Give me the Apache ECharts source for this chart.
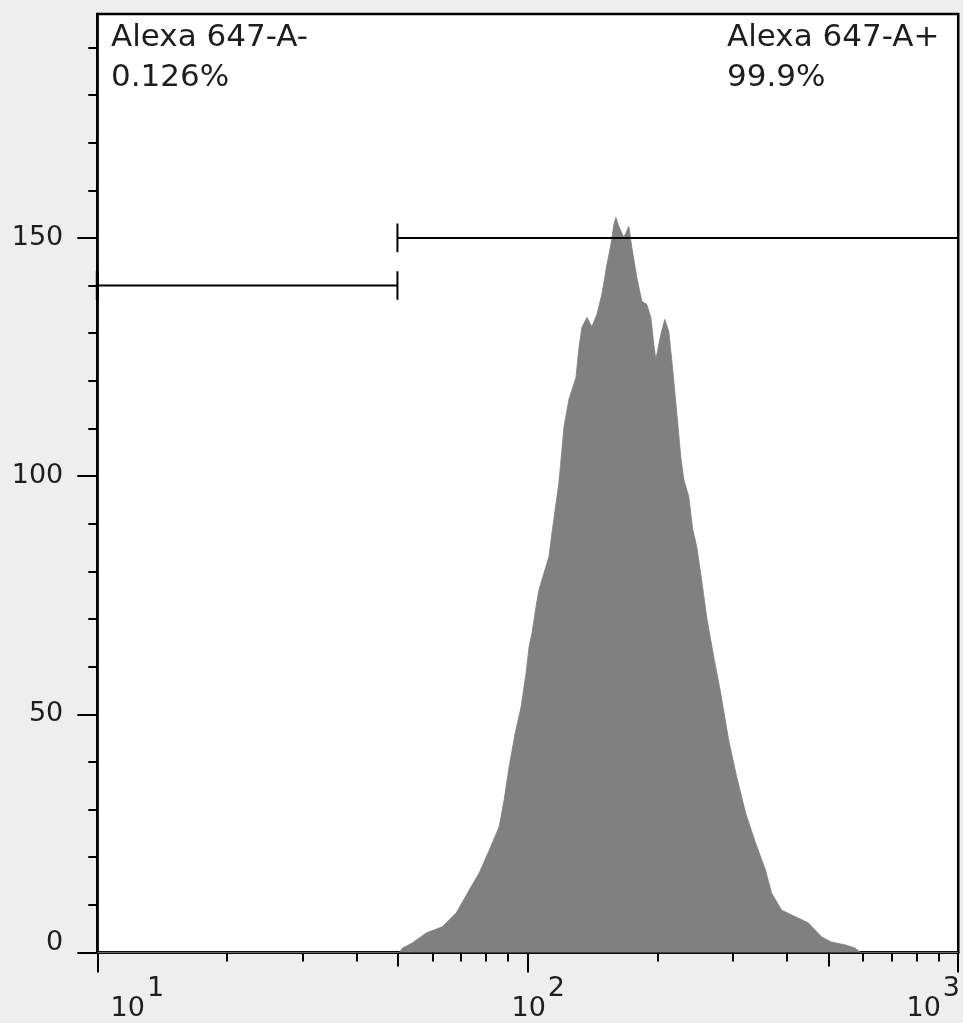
<!DOCTYPE html>
<html>
<head>
<meta charset="utf-8">
<script src="https://cdn.jsdelivr.net/npm/echarts@6/dist/echarts.min.js"></script>
<style>
html,body{margin:0;padding:0;background:#eeeeee;}
#chart{width:963px;height:1023px;}
</style>
</head>
<body>
<div id="chart"></div>
<script>
// ---- data ----
const binValues = [10, 50.3, 51.1, 53.9, 58.1, 63.3, 68.2, 73.1, 77.1, 81.4, 85.8, 88.1, 90.5, 93.5, 96.5, 99.1, 100.7, 102.3, 104.5, 106.2, 109.1, 112.0, 113.8, 118.1, 121.4, 124.6, 129.4, 131.5, 133.6, 137.2, 140.9, 144.7, 148.6, 152.7, 156.0, 158.5, 160.2, 162.8, 167.2, 171.7, 174.5, 179.2, 184.1, 189.1, 193.2, 196.3, 198.4, 203.7, 208.1, 212.6, 217.2, 221.9, 226.7, 230.4, 236.6, 241.7, 246.9, 253.5, 260.3, 270.4, 280.6, 292.9, 305.7, 320.7, 338.2, 356.7, 368.4, 388.6, 425.6, 448.9, 481.2, 507.6, 547.0, 576.9, 592.5, 1000];
const counts = [0, 0, 0.9, 2.0, 4.1, 5.4, 8.3, 13.1, 16.7, 21.5, 26.4, 32.0, 39.0, 46.1, 51.6, 58.7, 64.2, 67.1, 72.6, 76.2, 79.7, 83.1, 88.1, 98.6, 110.4, 116.1, 120.7, 127.0, 131.2, 133.3, 131.4, 133.9, 138.1, 144.4, 148.6, 152.8, 154.3, 152.4, 150.1, 152.4, 148.0, 141.7, 136.7, 136.0, 133.3, 127.6, 124.5, 129.7, 132.9, 130.4, 122.3, 113.3, 104.1, 99.3, 95.7, 88.8, 85.2, 78.2, 70.5, 62.1, 54.5, 44.6, 36.9, 29.3, 23.0, 17.3, 12.5, 8.9, 7.2, 6.2, 3.3, 2.2, 1.6, 0.9, 0, 0];

const gateNames = ['Alexa 647-A-', 'Alexa 647-A+'];
const gatePercents = ['0.126%', '99.9%'];
const negGate = [10, 49.8];     // x range
const negGateLevel = 140;
const posGate = [49.8, 1000];   // x range
const posGateLevel = 150;
const capHalf = 3;

const xMajorTicks = [10, 100, 1000];
const xMidTicks = [50, 500];
const xMinorTicks = [20, 30, 40, 60, 70, 80, 90, 200, 300, 400, 600, 700, 800, 900];
const xTickExponents = ['1', '2', '3'];
const yMajorTicks = [0, 50, 100, 150];
const yMinorTicks = [10, 20, 30, 40, 60, 70, 80, 90, 110, 120, 130, 140, 160, 170, 180, 190];

// ---- chart ----
const FONT = 'DejaVu Sans';
const TXT = '#1e1e1e';
const chart = echarts.init(document.getElementById('chart'));

const histData = binValues.map((v, i) => [v, counts[i]]);

function xAxisBase(ticks, len, extra) {
  return Object.assign({
    type: 'log', logBase: 10, min: 10, max: 1000, gridIndex: 0, position: 'bottom',
    axisLine: { show: false },
    axisTick: { show: true, customValues: ticks, length: len, lineStyle: { color: '#000', width: 2 } },
    axisLabel: { show: false },
    splitLine: { show: false }, minorTick: { show: false }
  }, extra || {});
}
function yAxisBase(ticks, len, extra) {
  return Object.assign({
    type: 'value', min: 0, max: 197, gridIndex: 0, position: 'left',
    axisLine: { show: false },
    axisTick: { show: true, customValues: ticks, length: len, lineStyle: { color: '#000', width: 2 } },
    axisLabel: { show: false },
    splitLine: { show: false }
  }, extra || {});
}

const annoStyle = { fontFamily: FONT, fontSize: 31, fontWeight: 'normal', lineHeight: 40, color: TXT };

const option = {
  backgroundColor: '#eeeeee',
  animation: false,
  title: [
    { text: gateNames[0] + '\n' + gatePercents[0], left: 111, top: 18, padding: 0, textStyle: annoStyle },
    { text: gateNames[1] + '\n' + gatePercents[1], left: 727, top: 18, padding: 0, textStyle: annoStyle }
  ],
  grid: { left: 97.3, right: 2.5, top: 14, bottom: 70.5, show: true, backgroundColor: '#ffffff',
          borderColor: '#000', borderWidth: 2.5 },
  xAxis: [
    xAxisBase(xMajorTicks, 20, {
      axisLine: { show: true, lineStyle: { color: '#000', width: 2.5 } },
      axisLabel: {
        show: true, customValues: xMajorTicks, margin: 23, color: TXT, fontFamily: FONT,
        formatter: function (v) {
          const i = xMajorTicks.indexOf(v);
          const e = xTickExponents[i];
          if (i === 0) return '{bL|10}{s|' + e + '}';
          if (i === 1) return '{bM|10}{s|' + e + '}';
          return '{b|10}{sR|' + e + '}';
        },
        rich: {
          b:  { fontFamily: FONT, fontSize: 27, color: TXT, verticalAlign: 'bottom' },
          bL: { fontFamily: FONT, fontSize: 27, color: TXT, verticalAlign: 'bottom', padding: [0, 0, 0, 80] },
          bM: { fontFamily: FONT, fontSize: 27, color: TXT, verticalAlign: 'bottom', padding: [0, 0, 0, 21] },
          s:  { fontFamily: FONT, fontSize: 27, color: TXT, verticalAlign: 'bottom', padding: [0, 0, 20, 2] },
          sR: { fontFamily: FONT, fontSize: 27, color: TXT, verticalAlign: 'bottom', padding: [0, 50, 20, 2] }
        }
      }
    }),
    xAxisBase(xMidTicks, 14),
    xAxisBase(xMinorTicks, 9)
  ],
  yAxis: [
    yAxisBase(yMajorTicks, 20, {
      axisLine: { show: true, lineStyle: { color: '#000', width: 2.5 } },
      axisLabel: {
        show: true, customValues: yMajorTicks, margin: 34, color: TXT, fontFamily: FONT, fontSize: 27,
        formatter: function (v) { return v === 0 ? '{z|0}' : String(v); },
        rich: { z: { fontFamily: FONT, fontSize: 27, color: TXT, padding: [0, 0, 20, 0] } }
      }
    }),
    yAxisBase(yMinorTicks, 9)
  ],
  series: [
    {
      name: 'count', type: 'line', xAxisIndex: 0, yAxisIndex: 0, data: histData,
      showSymbol: false, symbol: 'none', smooth: false, z: 1,
      lineStyle: { color: '#808080', width: 0.8 },
      areaStyle: { color: '#808080', opacity: 1 }
    },
    { type: 'line', xAxisIndex: 0, yAxisIndex: 0, symbol: 'none', z: 5,
      lineStyle: { color: '#000', width: 2 },
      data: [[negGate[0], negGateLevel], [negGate[1], negGateLevel]] },
    { type: 'line', xAxisIndex: 0, yAxisIndex: 0, symbol: 'none', z: 5,
      lineStyle: { color: '#000', width: 3 },
      data: [[negGate[0], negGateLevel - capHalf], [negGate[0], negGateLevel + capHalf]] },
    { type: 'line', xAxisIndex: 0, yAxisIndex: 0, symbol: 'none', z: 5,
      lineStyle: { color: '#000', width: 2 },
      data: [[negGate[1], negGateLevel - capHalf], [negGate[1], negGateLevel + capHalf]] },
    { type: 'line', xAxisIndex: 0, yAxisIndex: 0, symbol: 'none', z: 5,
      lineStyle: { color: '#000', width: 2 },
      data: [[posGate[0], posGateLevel], [posGate[1], posGateLevel]] },
    { type: 'line', xAxisIndex: 0, yAxisIndex: 0, symbol: 'none', z: 5,
      lineStyle: { color: '#000', width: 2 },
      data: [[posGate[0], posGateLevel - capHalf], [posGate[0], posGateLevel + capHalf]] }
  ]
};
chart.setOption(option);
</script>
</body>
</html>
